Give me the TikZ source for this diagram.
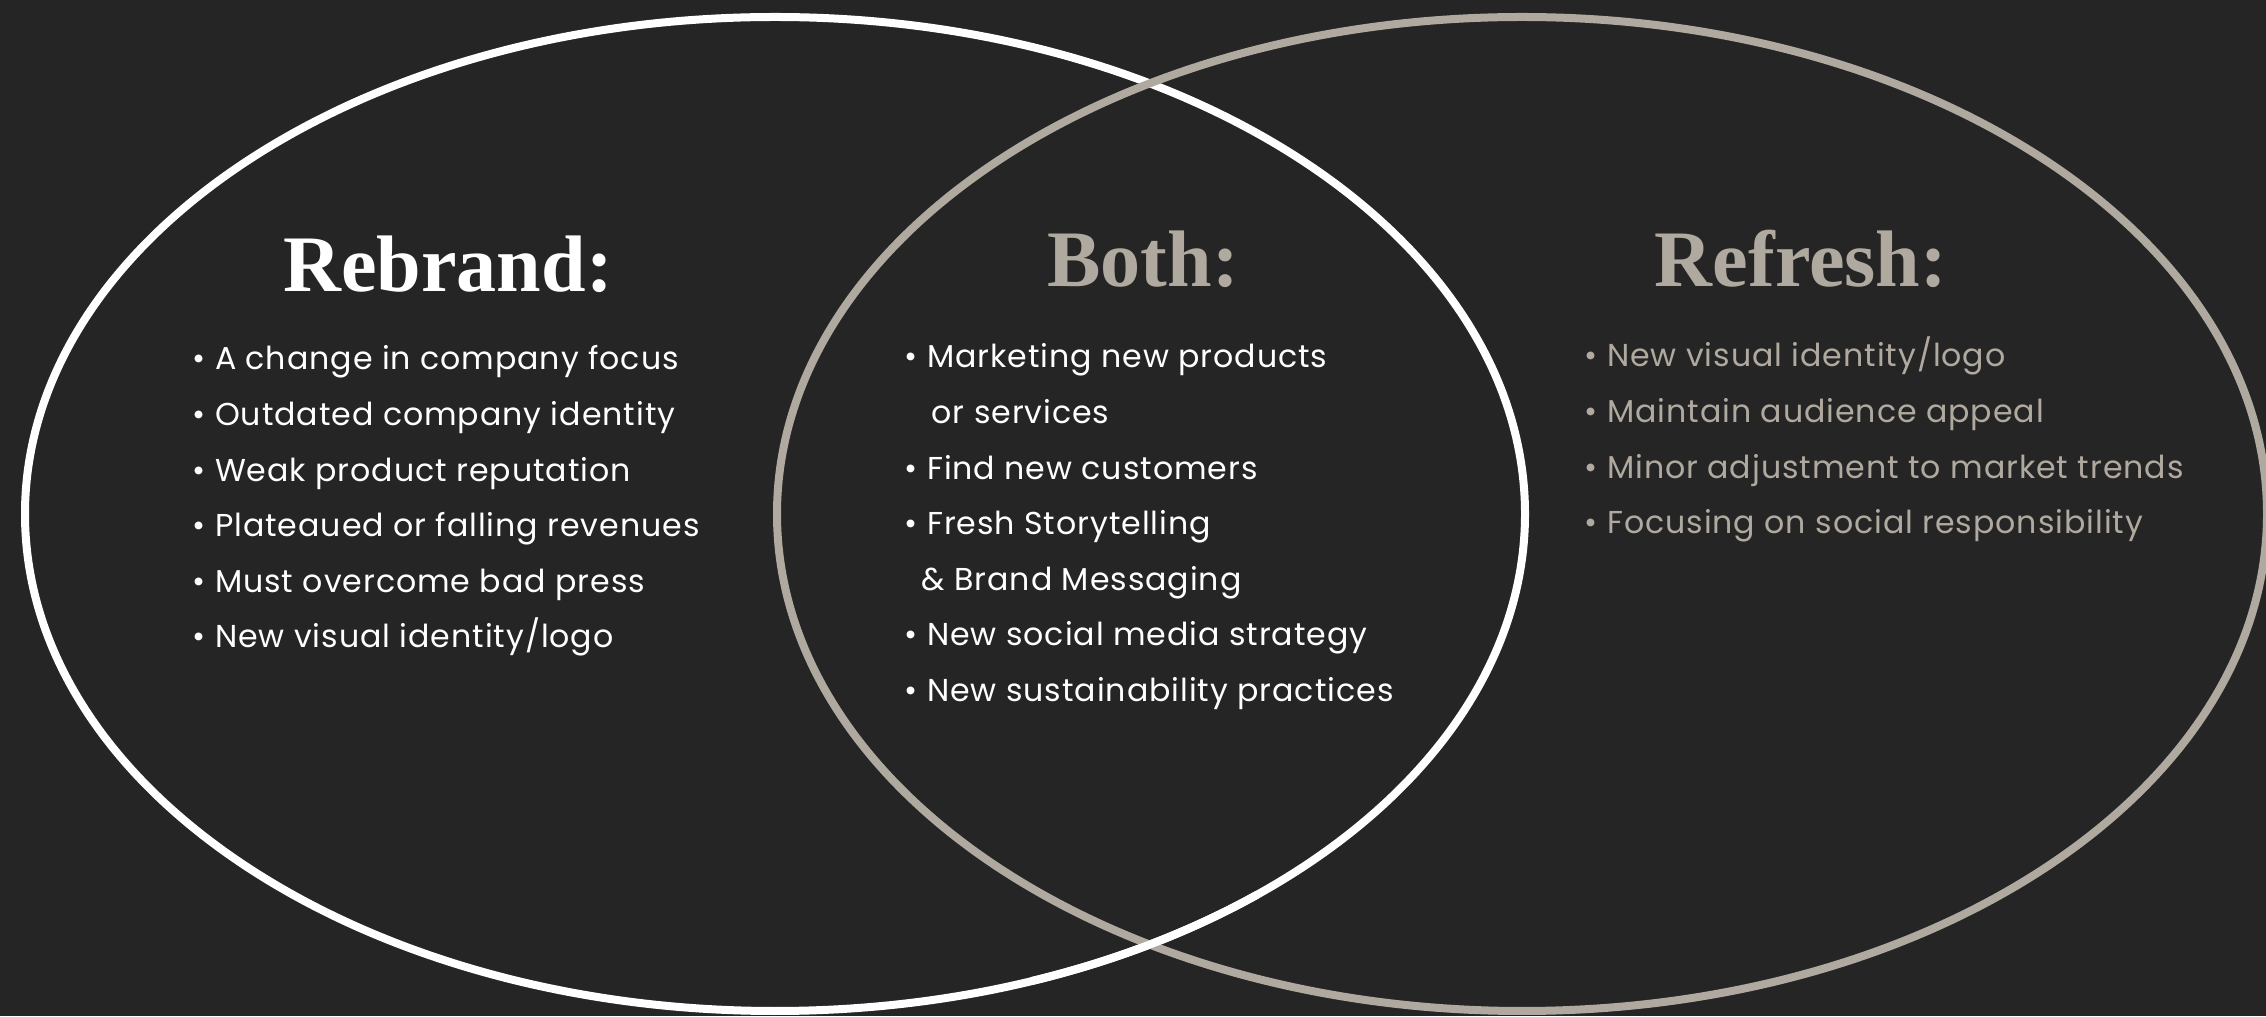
\documentclass[tikz,border=0pt]{standalone}
\usepackage{fontspec}
\setmainfont{Liberation Serif}
\newfontfamily\listfont[LetterSpace=3.0]{Poppins}
\usepackage{tikz}
\usetikzlibrary{positioning}

\definecolor{bgdark}{RGB}{37,37,37}
\definecolor{taupe}{RGB}{176,169,159}

\begin{document}
\begin{tikzpicture}[
    heading/.style={anchor=base, inner sep=0pt, font=\fontsize{22.8}{24}\selectfont\bfseries},
    items/.style={anchor=base west, inner sep=0pt, font=\listfont\fontsize{9.0}{15.8}\selectfont},
    ring/.style={line width=0.08cm}
]
\fill[bgdark] (0,0) rectangle (22.66,10.16);
\useasboundingbox (0,0) rectangle (22.66,10.16);

% the two circles of the diagram
\draw[ring, white] (7.75,5.02) ellipse [x radius=7.5, y radius=4.97];
\draw[ring, taupe] (15.22,5.02) ellipse [x radius=7.45, y radius=4.97];
% white passes over the grey at the lower crossing
\draw[ring, white] (7.75,5.02) ++(-70:7.5 and 4.97) arc[start angle=-70, end angle=-50, x radius=7.5, y radius=4.97];

\node[heading, white] (Rebrand) at (4.48,7.24) {Rebrand:};
\node[heading, taupe] (Both) at (11.43,7.29) {Both:};
\node[heading, taupe] (Refresh) at (18.01,7.29) {Refresh:};

\node[items, white] (RebrandList) at (1.92,6.46) {\begin{tabular}[t]{@{}l@{}}
• A change in company focus\\
• Outdated company identity\\
• Weak product reputation\\
• Plateaued or falling revenues\\
• Must overcome bad press\\
• New visual identity/logo
\end{tabular}};

\node[items, white] (BothList) at (9.04,6.48) {\begin{tabular}[t]{@{}l@{}}
• Marketing new products\\
\hspace{0.27cm}or services\\
• Find new customers\\
• Fresh Storytelling\\
\hspace{0.17cm}\& Brand Messaging\\
• New social media strategy\\
• New sustainability practices
\end{tabular}};

\node[items, taupe] (RefreshList) at (15.84,6.49) {\begin{tabular}[t]{@{}l@{}}
• New visual identity/logo\\
• Maintain audience appeal\\
• Minor adjustment to market trends\\
• Focusing on social responsibility
\end{tabular}};
\end{tikzpicture}
\end{document}
